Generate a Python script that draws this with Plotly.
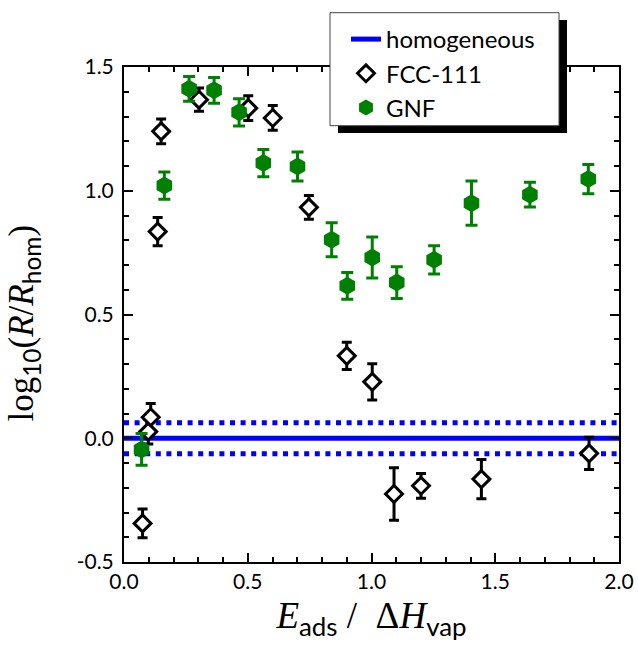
import plotly.graph_objects as go

# ---- data ----
fcc_x = [0.075, 0.098, 0.108, 0.136, 0.150, 0.303, 0.502, 0.601, 0.747, 0.900, 1.003, 1.091, 1.200, 1.444, 1.879]
fcc_y = [-0.344, 0.027, 0.085, 0.835, 1.240, 1.368, 1.334, 1.294, 0.933, 0.333, 0.228, -0.225, -0.192, -0.165, -0.061]
fcc_err = [0.058, 0.050, 0.055, 0.057, 0.050, 0.047, 0.050, 0.050, 0.048, 0.055, 0.073, 0.106, 0.050, 0.079, 0.065]

gnf_x = [0.071, 0.163, 0.263, 0.364, 0.465, 0.563, 0.701, 0.839, 0.902, 1.003, 1.102, 1.253, 1.404, 1.640, 1.876]
gnf_y = [-0.045, 1.021, 1.412, 1.406, 1.317, 1.112, 1.098, 0.802, 0.616, 0.730, 0.629, 0.721, 0.950, 0.984, 1.047]
gnf_err = [0.064, 0.055, 0.050, 0.052, 0.055, 0.055, 0.059, 0.069, 0.054, 0.083, 0.064, 0.057, 0.089, 0.050, 0.059]

hom_x = [0.0, 2.0]
hom_y = [0.0, 0.0]
hom_band = 0.063

x_ticks = [0.0, 0.5, 1.0, 1.5, 2.0]
x_ticktext = ["0.0", "0.5", "1.0", "1.5", "2.0"]
y_ticks = [-0.5, 0.0, 0.5, 1.0, 1.5]
y_ticktext = ["-0.5", "0.0", "0.5", "1.0", "1.5"]

SANS = "Lato"
SERIF = "Liberation Serif"
BLUE = "#0000ff"
GREEN = "#008000"

W, H = 638, 654
L, R, T, B = 124, 619, 67, 562   # plot area in page pixels

fig = go.Figure()

fig.add_trace(go.Scatter(x=hom_x, y=[v + hom_band for v in hom_y], mode="lines",
                         line=dict(color=BLUE, width=5, dash="5px,5.6px"),
                         showlegend=False, hoverinfo="skip"))
fig.add_trace(go.Scatter(x=hom_x, y=[v - hom_band for v in hom_y], mode="lines",
                         line=dict(color=BLUE, width=5, dash="5px,5.6px"),
                         showlegend=False, hoverinfo="skip"))
fig.add_trace(go.Scatter(x=hom_x, y=hom_y, mode="lines", name="homogeneous",
                         line=dict(color=BLUE, width=5)))

fig.add_trace(go.Scatter(
    x=fcc_x, y=fcc_y, mode="markers", name="FCC-111",
    marker=dict(symbol="diamond", size=13, color="white",
                line=dict(color="black", width=3)),
    error_y=dict(type="data", array=fcc_err, visible=True,
                 color="black", thickness=3, width=5)))

fig.add_trace(go.Scatter(
    x=gnf_x, y=gnf_y, mode="markers", name="GNF",
    marker=dict(symbol="hexagon", size=18, color=GREEN,
                line=dict(width=0)),
    error_y=dict(type="data", array=gnf_err, visible=True,
                 color=GREEN, thickness=3, width=6)))

def px(x):
    return (x - L) / (R - L)
def py(y):
    return (B - y) / (B - T)

fig.add_shape(type="rect", xref="paper", yref="paper",
              x0=px(338), x1=px(567), y0=py(133), y1=py(20),
              fillcolor="black", line=dict(width=0), layer="above")
fig.add_shape(type="rect", xref="paper", yref="paper",
              x0=px(330), x1=px(559), y0=py(125.7), y1=py(12.7),
              fillcolor="white", line=dict(color="#444", width=1), layer="above")

axis_common = dict(
    showline=True, linecolor="black", linewidth=2, mirror="ticks",
    ticks="inside", ticklen=9, tickwidth=2, tickcolor="black",
    showgrid=False, zeroline=False, automargin=False,
    tickfont=dict(family=SANS, size=21, color="black"),
)

sub = lambda s: '<sub><span style="font-family:Lato">' + s + '</span></sub>'

fig.update_xaxes(range=[0, 2.0], tickvals=x_ticks, ticktext=x_ticktext,
                 minor=dict(dtick=0.1, ticklen=5, tickwidth=2, ticks="inside", tickcolor="black"),
                 title=dict(text="<i>E</i>" + sub("ads") + "&nbsp;/&nbsp;&nbsp;Δ<i>H</i>" + sub("vap"),
                            font=dict(family=SERIF, size=37, color="black"), standoff=10),
                 **axis_common)
fig.update_yaxes(range=[-0.5, 1.5], tickvals=y_ticks, ticktext=y_ticktext,
                 ticklabelstandoff=4,
                 minor=dict(dtick=0.1, ticklen=5, tickwidth=2, ticks="inside", tickcolor="black"),
                 title=dict(text="log" + sub("10") + "(<i>R</i>/<i>R</i>" + sub("hom") + ")&nbsp;&nbsp;",
                            font=dict(family=SERIF, size=35, color="black"), standoff=32),
                 **axis_common)

fig.update_layout(
    width=W, height=H,
    margin=dict(l=L, r=W - R, t=T, b=H - B, autoexpand=False),
    plot_bgcolor="white", paper_bgcolor="white",
    legend=dict(x=px(346), y=py(17), xanchor="left", yanchor="top",
                bgcolor="rgba(0,0,0,0)", borderwidth=0,
                font=dict(family=SANS, size=24, color="black"),
                itemsizing="trace", tracegroupgap=0),
)

fig.write_html("out.html", config={"displayModeBar": False},
               post_script="document.body.style.margin='0';")
